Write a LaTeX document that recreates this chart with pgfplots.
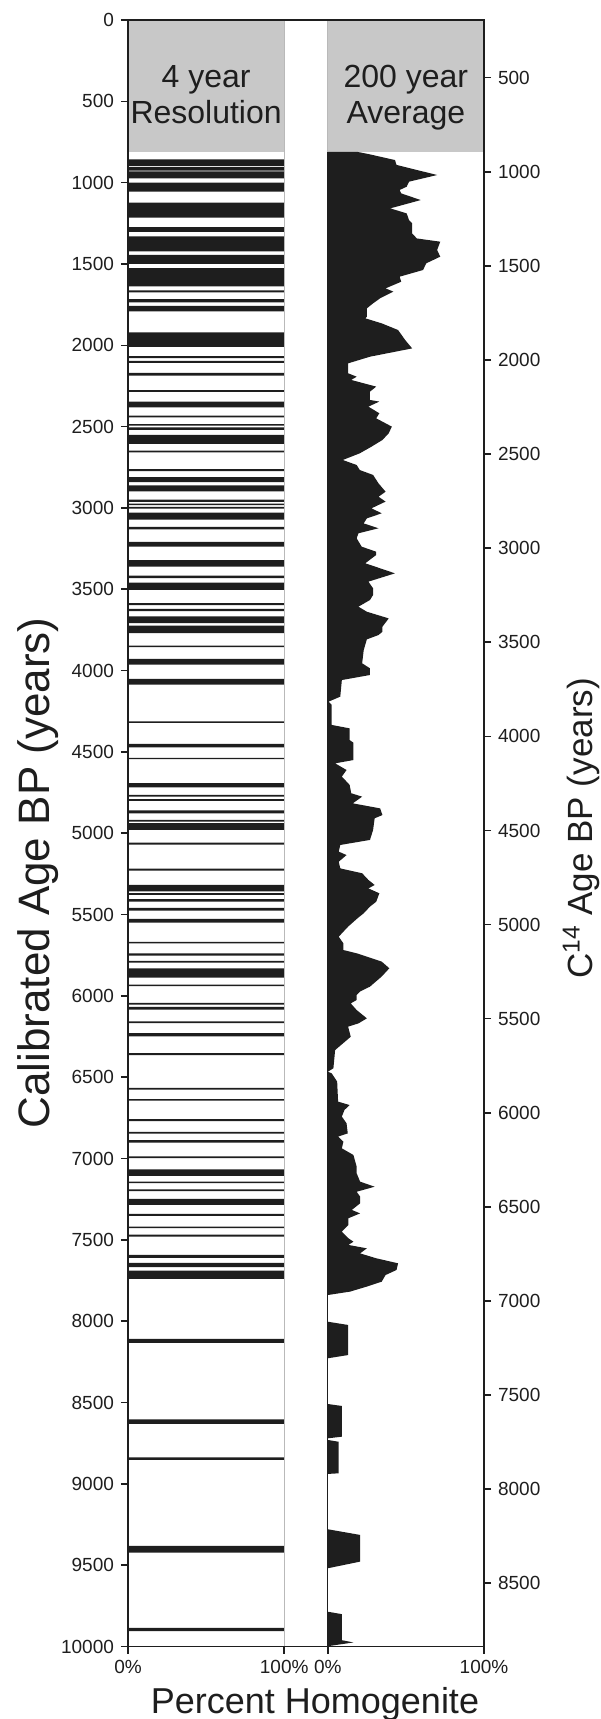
\documentclass[border=0pt]{standalone}
\usepackage{pgfplots}
\usepackage{pgfplotstable}
\pgfplotsset{compat=1.18}
\usepackage{fontspec}
\setmainfont{Liberation Sans}
\definecolor{ink}{RGB}{30,30,30}
\definecolor{hdr}{RGB}{200,200,200}
\definecolor{edge}{RGB}{185,185,185}

% 4 year resolution: homogenite layers (pct = bar length, age = start of interval)
\pgfplotstableread{
pct age
100 857
0 898
100 904
0 926
100 930
0 974
100 1000
0 1055
100 1123
0 1215
100 1274
0 1303
100 1331
0 1423
100 1444
0 1499
100 1526
0 1638
100 1663
0 1675
100 1716
0 1736
100 1757
0 1791
100 1920
0 2010
100 2067
0 2079
100 2096
0 2108
100 2170
0 2186
100 2276
0 2286
100 2347
0 2382
100 2433
0 2443
100 2484
0 2494
100 2504
0 2520
100 2551
0 2606
100 2647
0 2659
100 2761
0 2773
100 2810
0 2841
100 2861
0 2898
100 2949
0 2963
100 2973
0 2983
100 2994
0 3004
100 3028
0 3071
100 3116
0 3132
100 3208
0 3238
100 3320
0 3361
100 3416
0 3432
100 3459
0 3504
100 3585
0 3597
100 3620
0 3634
100 3667
0 3708
100 3724
0 3769
100 3846
0 3856
100 3928
0 3963
100 4051
0 4086
100 4312
0 4322
100 4450
0 4472
100 4536
0 4544
100 4692
0 4718
100 4764
0 4774
100 4790
0 4801
100 4860
0 4877
100 4918
0 4928
100 4938
0 4979
100 5057
0 5070
100 5217
0 5230
100 5318
0 5358
100 5368
0 5379
100 5405
0 5420
100 5459
0 5475
100 5527
0 5549
100 5667
0 5677
100 5739
0 5753
100 5784
0 5796
100 5831
0 5887
100 5930
0 5940
100 6043
0 6054
100 6068
0 6084
100 6157
0 6167
100 6229
0 6249
100 6352
0 6364
100 6566
0 6576
100 6634
0 6644
100 6758
0 6770
100 6836
0 6846
100 6887
0 6902
100 6986
0 6998
100 7066
0 7107
100 7141
0 7151
100 7190
0 7200
100 7248
0 7285
100 7340
0 7352
100 7418
0 7428
100 7467
0 7480
100 7592
0 7611
100 7641
0 7668
100 7689
0 7740
100 8108
0 8133
100 8604
0 8631
100 8837
0 8853
100 9381
0 9422
100 9885
0 9906
}\bands

% 200 year average
\pgfplotstableread{
age pct
810 0
810 18.5
824 26
861 43
891 44
953 70
994 52
1025 50.5
1045 46
1066 47
1107 59.5
1158 40
1189 50.5
1230 52
1250 54
1312 54
1343 57
1363 72
1414 70
1455 72
1496 63
1537 61
1578 46
1609 47
1650 37
1670 42
1711 33.5
1742 29
1773 25
1824 25
1834 24
1865 34.5
1906 45
1967 49.5
2019 54
2070 27
2111 13
2172 13
2193 18.5
2213 15
2254 31
2285 27
2336 27
2346 33
2377 26
2418 33
2449 31
2500 41
2541 39
2582 35
2623 28
2664 20.5
2705 9.6
2736 18.5
2767 20.5
2797 29
2849 32.5
2900 37
2931 32.5
2961 37
3002 28
3033 34.5
3064 25
3095 23
3125 32.5
3156 19.6
3187 18.5
3238 21.7
3269 31
3289 31
3340 24
3402 43
3453 26
3494 29
3535 29
3566 27
3607 19.6
3638 25
3679 39
3730 35
3761 35
3781 32.5
3808 25
3874 23
3955 22
3986 27
4027 27
4058 9
4160 8
4191 0.5
4211 2.5
4334 2.5
4355 14
4427 14
4443 16.4
4550 16.4
4570 4.7
4611 12
4652 9
4672 11
4703 14
4754 15
4775 22
4816 16
4847 33.5
4888 35
4908 30
4980 29
5041 27
5072 8
5113 7
5134 12
5175 7
5216 8
5246 22
5287 26
5318 30
5339 26
5369 33
5421 31
5451 27
5492 23
5523 19
5574 13
5636 7
5677 10
5718 10
5738 18.5
5789 34.5
5830 39.4
5881 34.5
5943 27
5974 20.5
5994 18.5
6025 18.5
6046 14.7
6087 18.5
6138 25
6169 19.6
6189 13
6251 14.7
6333 4.7
6445 3.6
6466 0
6476 2.5
6527 6
6650 6.6
6671 14
6701 10.7
6742 9
6783 12
6845 12.8
6865 6.6
6896 10
6937 9
6978 16.4
7050 18.5
7091 18.5
7142 20.7
7173 30
7204 18.5
7234 20.7
7275 20.7
7316 15.4
7337 20.7
7367 13.2
7408 13.2
7449 9
7490 13.2
7511 16.4
7531 13.2
7552 25
7583 20.7
7613 31
7644 45
7685 44
7716 37
7757 34.5
7787 25
7818 14.3
7839 0
8003 0
8023 13
8208 13
8228 0
8509 0
8521 9
8710 9
8720 0
8730 0
8741 7
8935 7
8939 0
9279 0
9314 20.7
9478 20.7
9519 0
9786 0
9801 9
9961 9
9975 16.4
9998 0
10000 0
}\profile

\begin{document}
\begin{tikzpicture}
\useasboundingbox (0,0) rectangle (300pt,859.5pt);
\begin{axis}[
  at={(64pt,36.25pt)}, anchor=south west,
  scale only axis, width=178pt, height=813.25pt,
  xmin=0, xmax=227.9, ymin=0, ymax=10000, y dir=reverse,
  axis on top,
  axis line style={ink, line width=0.8pt},
  tick style={ink, line width=0.8pt},
  major tick length=3.5pt,
  tick align=outside, tick pos=left,
  xtick={0,100,127.9,227.9},
  xticklabels={0\%,100\%,0\%,100\%},
  ytick={0,500,...,10000},
  scaled ticks=false,
  tick label style={font=\fontsize{9.5}{11}\selectfont, text=ink},
  /pgf/number format/assume math mode=true,
  /pgf/number format/1000 sep={},
  ylabel={Calibrated Age BP (years)},
  ylabel style={font=\fontsize{22}{24}\selectfont, text=ink,
    at={(axis description cs:-0.252,0.4756)}, anchor=center},
  xlabel={Percent Homogenite},
  xlabel style={font=\fontsize{18}{20}\selectfont, text=ink,
    at={(axis description cs:0.5253,-0.0409)}, anchor=base},
  clip=false,
]
% grey header boxes
\addplot[fill=hdr, draw=none] coordinates {(0,0) (100,0) (100,810) (0,810) (0,0)};
\addplot[fill=hdr, draw=none] coordinates {(127.9,0) (227.9,0) (227.9,810) (127.9,810) (127.9,0)};
% 4 year resolution
\addplot[xbar interval, fill=ink, draw=none] table[x=pct, y=age] {\bands};
% 200 year average
\addplot[fill=ink, draw=none] table[x expr=\thisrow{pct}+127.9, y=age] {\profile};
% panel edges
\addplot[edge, line width=0.6pt] coordinates {(100,0) (100,10000)};
\addplot[edge, line width=0.6pt] coordinates {(127.9,0) (127.9,810)};
\addplot[ink, line width=0.6pt] coordinates {(127.9,810) (127.9,10000)};
\node[font=\fontsize{16}{18}\selectfont, text=ink, align=center, anchor=north, inner sep=0pt]
  at (axis cs:50,277) {4 year\\Resolution};
\node[font=\fontsize{16}{18}\selectfont, text=ink, align=center, anchor=north, inner sep=0pt]
  at (axis cs:177.9,277) {200 year\\Average};
\end{axis}
\begin{axis}[
  at={(64pt,36.25pt)}, anchor=south west,
  scale only axis, width=178pt, height=813.25pt,
  xmin=0, xmax=1, ymin=193.5, ymax=8836, y dir=reverse,
  axis y line*=right, axis x line=none,
  axis line style={ink, line width=0.8pt},
  tick style={ink, line width=0.8pt},
  major tick length=3.5pt, tick align=outside,
  ytick={500,1000,...,8500},
  scaled ticks=false,
  tick label style={font=\fontsize{9.5}{11}\selectfont, text=ink},
  /pgf/number format/assume math mode=true,
  /pgf/number format/1000 sep={},
  ylabel={C\textsuperscript{14} Age BP (years)},
  ylabel style={font=\fontsize{17.5}{20}\selectfont, text=ink,
    at={(axis description cs:1.2725,0.503)}, anchor=center},
]
\end{axis}
\end{tikzpicture}
\end{document}
